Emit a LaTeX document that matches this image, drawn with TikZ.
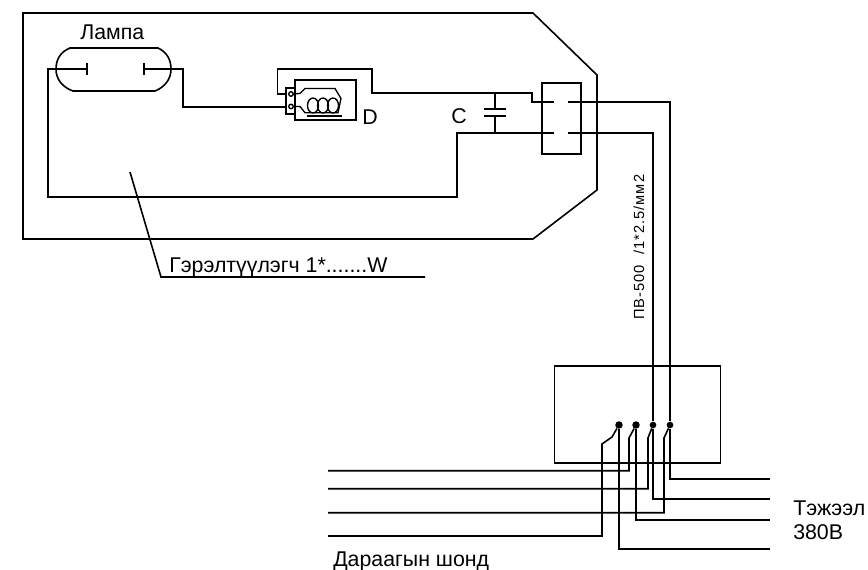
\documentclass[tikz,border=0pt]{standalone}
\usepackage{fontspec}
\setmainfont{Liberation Sans}
\newfontfamily\widefont[LetterSpace=7]{Liberation Sans}
\usetikzlibrary{positioning, calc}

\tikzset{
    wire/.style={line width=1.2pt, line join=miter},
    thin wire/.style={line width=1pt},
    box/.style={draw, line width=1.2pt, inner sep=0pt, rectangle},
    contact/.style={circle, fill=black, inner sep=0pt, minimum size=5.6pt},
    small contact/.style={contact, minimum size=5pt},
    label/.style={inner sep=0pt, anchor=base west, font=\fontsize{16}{18}\selectfont},
}

\begin{document}
\begin{tikzpicture}[x=.75pt,y=-.75pt]
        \useasboundingbox (0,0) rectangle (868,569);

        % housing
        \draw[wire] (23,13) -- (533,13) -- (597,75) -- (597,190) -- (533,239) -- (23,239) -- cycle;

        % lamp
        \draw[wire] (70,48) .. controls (60,52) and (56,60) .. (56,69)
            .. controls (56,79) and (62,87) .. (73,91) -- (155,91)
            .. controls (165,87) and (171,79) .. (171,69)
            .. controls (171,60) and (167,52) .. (158,48) -- cycle;
        \coordinate (L1) at (87,69);
        \coordinate (L2) at (144,69);
        \draw[wire] ($(L1)+(0,-6)$) -- ($(L1)+(0,6)$);
        \draw[wire] ($(L2)+(0,-6)$) -- ($(L2)+(0,6)$);
        \node[label] (lampa) at (80,39) {Лампа};

        % starter
        \node[box, minimum width=45.75pt, minimum height=30pt] (D) at (325.5,100) {};
        \node[box, fill=white, minimum width=6.75pt, minimum height=19.5pt] (T) at (290.5,101) {};
        \node[circle, draw, thin wire, inner sep=0pt, minimum size=3.4pt] (T1) at (291,94) {};
        \node[circle, draw, thin wire, inner sep=0pt, minimum size=3.4pt] (T2) at (291,106.5) {};
        \draw[thin wire] (T1) -- (300,93.5) -- (305,88.5) -- (335,88.5) -- (341,98.5) -- (338,112.7) -- (305,112.7) -- (300,106.5) -- (T2);
        \draw[thin wire] (313,105.5) ellipse (5.5 and 7.5);
        \draw[thin wire] (323,105.5) ellipse (5.5 and 7.5);
        \draw[thin wire] (333,105.5) ellipse (5.5 and 7.5);
        \draw[wire] (307,116) -- (342,116);
        \node[label] (Dlabel) at (362,124) {D};

        % terminal box
        \node[box, minimum width=29.25pt, minimum height=53.25pt] (X) at (561.5,118.5) {};
        \coordinate (X1a) at (554,102);
        \coordinate (X1b) at (568,102);
        \coordinate (X2a) at (554,133);
        \coordinate (X2b) at (568,133);

        % capacitor
        \coordinate (C1) at (495,93);
        \coordinate (C2) at (495,133);
        \coordinate (P1) at (495,109);
        \coordinate (P2) at (495,116);
        \draw[wire] (C1) -- (P1);
        \draw[wire] (C2) -- (P2);
        \draw[wire] ($(P1)+(-11,0)$) -- ($(P1)+(11,0)$);
        \draw[wire] ($(P2)+(-11,0)$) -- ($(P2)+(11,0)$);
        \node[label] (Clabel) at (451,123) {C};

        % lamp wiring
        \draw[wire] (L1) -- (48,69) -- (48,197) -- (457,197) -- (457,133) -- (X2a);
        \draw[wire] (L2) -- (183,69) -- (183,107) -- (T.west |- 0,107);
        \draw[wire] (T.west |- 0,94) -- (277.5,94) -- (277.5,69) -- (372,69) -- (372,93) -- (532,93) -- (532,102) -- (X1a);

        % leader
        \coordinate (G1) at (130,172);
        \coordinate (G2) at (161,277);
        \coordinate (G3) at (425,277);
        \draw[wire] (G1) -- (G2) -- (G3);
        \node[label] (gerel) at (169,272) {Гэрэлтүүлэгч 1*.......W};

        % switch box
        \node[box, minimum width=124.5pt, minimum height=72.75pt] (S) at (637.5,414.5) {};
        \node[contact] (K1) at (619,425) {};
        \node[contact] (K2) at (636,425) {};
        \node[small contact] (K3) at (653,425) {};
        \node[small contact] (K4) at (670,425) {};

        % feed
        \draw[wire] (X1b) -- (670,102) -- (K4);
        \draw[wire] (X2b) -- (653,133) -- (K3);
        \node[rotate=90, anchor=base west, inner sep=0pt, font=\widefont\fontsize{11}{13}\selectfont] (pv) at (644,320) {ПВ-500\ \ /1*2.5/мм2};

        % outgoing
        \draw[wire] (K4) -- (670,479) -- (770,479);
        \draw[wire] (K3) -- (653,499) -- (770,499);
        \draw[wire] (K2) -- (636,520) -- (770,520);
        \draw[wire] (K1) -- (619,549) -- (770,549);

        % next phase
        \draw[wire] (K1) -- (612,437) -- (602,444) -- (602,536) -- (328,536);
        \draw[wire] (K2) -- (629,438) -- (629,470.7) -- (328,470.7);
        \draw[wire] (K3) -- (648,438) -- (648,488.7) -- (328,488.7);
        \draw[wire] (K4) -- (664,438) -- (664,512.7) -- (328,512.7);

        \node[label] (supply) at (793,515) {Тэжээл};
        \node[label] (volt) at (793,539) {380В};
        \node[label] (next) at (333,566) {Дараагын шонд};
    \end{tikzpicture}
\end{document}
